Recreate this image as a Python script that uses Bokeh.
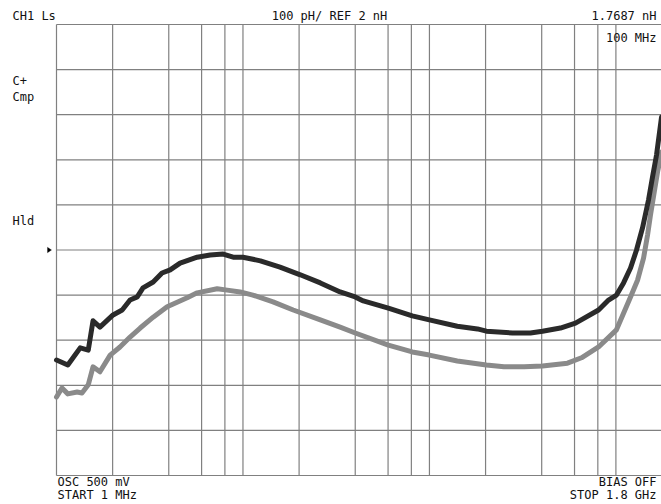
import math
from bokeh.plotting import figure
from bokeh.models import Range1d, Label, PolyAnnotation
from bokeh.embed import file_html
from bokeh.resources import INLINE

# ---- data (frequency in MHz, inductance in nH) ----
freq_black = [1.0, 1.15, 1.34, 1.48, 1.57, 1.71, 2.01, 2.25, 2.48, 2.71, 2.91,
              3.30, 3.68, 4.07, 4.60, 5.68, 6.67, 7.83, 8.86, 10.0, 12.4,
              15.8, 20.3, 26.0, 33.2, 40.0, 44.2, 60.2, 80.9, 99.9, 141,
              181, 202, 279, 348, 404, 504, 607, 807, 913, 1007,
              1099, 1198, 1290, 1389, 1496, 1572, 1652, 1757]
ls_black = [1.756, 1.745, 1.783, 1.778, 1.843, 1.829, 1.856, 1.867, 1.889, 1.896, 1.916,
            1.929, 1.949, 1.956, 1.971, 1.984, 1.989, 1.991, 1.984, 1.984, 1.976,
            1.962, 1.945, 1.927, 1.907, 1.896, 1.887, 1.871, 1.854, 1.845, 1.831,
            1.825, 1.820, 1.816, 1.816, 1.820, 1.827, 1.838, 1.867, 1.889, 1.900,
            1.927, 1.960, 2.000, 2.049, 2.111, 2.162, 2.211, 2.295]

freq_gray = [1.0, 1.07, 1.15, 1.29, 1.37, 1.48, 1.57, 1.71, 1.94, 2.19,
             2.48, 2.81, 3.30, 3.92, 5.02, 5.68, 7.27, 8.23, 9.66, 11.3,
             14.5, 18.6, 26.0, 33.2, 40.0, 60.2, 80.9, 99.9, 141, 202,
             251, 322, 404, 550, 654, 807, 1007, 1198, 1306, 1407,
             1478, 1533, 1612, 1672, 1757]
ls_gray = [1.674, 1.694, 1.681, 1.685, 1.683, 1.701, 1.741, 1.730, 1.767, 1.785,
           1.807, 1.827, 1.851, 1.874, 1.894, 1.905, 1.914, 1.911, 1.907, 1.900,
           1.885, 1.867, 1.845, 1.829, 1.816, 1.789, 1.774, 1.767, 1.754, 1.745,
           1.741, 1.741, 1.743, 1.749, 1.761, 1.785, 1.823, 1.896, 1.933, 1.982,
           2.033, 2.078, 2.133, 2.173, 2.217]

grid_freqs = [1, 2, 4, 6, 8, 10, 20, 40, 60, 80, 100, 200, 400, 600, 800, 1000]
grid_ls = [1.5, 1.6, 1.7, 1.8, 1.9, 2.0, 2.1, 2.2, 2.3, 2.4, 2.5]

start_mhz = 1
stop_mhz = 1800
ref_nh = 2.0
bottom_nh = 1.5
top_nh = 2.5

txt_ch = "CH1 Ls"
txt_scale = "100 pH/ REF 2 nH"
txt_marker_val = "1.7687 nH"
txt_marker_freq = "100 MHz"
txt_cplus = "C+"
txt_cmp = "Cmp"
txt_hld = "Hld"
txt_osc = "OSC 500 mV"
txt_start = "START 1 MHz"
txt_bias = "BIAS OFF"
txt_stop = "STOP 1.8 GHz"

# ---- layout (pixels) ----
W, H = 661, 504
GRID_LEFT, GRID_RIGHT = 56, 663      # where start/stop frequencies sit
GRID_TOP, GRID_BOTTOM = 24, 475      # where top/bottom inductance sit
FONT = "DejaVu Sans Mono"
FS = "12px"

# ranges chosen so that the whole canvas is the frame and the graticule sits where it should
dec_px = (GRID_RIGHT - GRID_LEFT) / (math.log10(stop_mhz) - math.log10(start_mhz))
x0 = 10 ** (math.log10(start_mhz) - GRID_LEFT / dec_px)
x1 = 10 ** (math.log10(stop_mhz) - (GRID_RIGHT - W) / dec_px)
nh_px = (GRID_BOTTOM - GRID_TOP) / (top_nh - bottom_nh)
y0 = bottom_nh - (H - GRID_BOTTOM) / nh_px
y1 = top_nh + GRID_TOP / nh_px

p = figure(width=W, height=H, x_axis_type="log",
           x_range=Range1d(x0, x1), y_range=Range1d(y0, y1),
           output_backend="svg", toolbar_location=None,
           min_border_left=0, min_border_right=0, min_border_top=0, min_border_bottom=0)
p.axis.visible = False
p.grid.visible = False
p.outline_line_color = None
p.background_fill_color = "white"
p.border_fill_color = "white"

GRID_COLOR = "#808080"
p.segment(x0=grid_freqs, y0=[bottom_nh] * len(grid_freqs),
          x1=grid_freqs, y1=[top_nh] * len(grid_freqs),
          line_color=GRID_COLOR, line_width=1.2)
p.segment(x0=[start_mhz] * len(grid_ls), y0=grid_ls,
          x1=[stop_mhz] * len(grid_ls), y1=grid_ls,
          line_color=GRID_COLOR, line_width=1.2)

p.line(freq_gray, ls_gray, line_color="#8a8a8a", line_width=5, line_join="round", line_cap="round")
p.line(freq_black, ls_black, line_color="#2a2a2a", line_width=5, line_join="round", line_cap="round")

def lab(text, x, y_top, align="left"):
    # x: page pixels from left, y_top: page pixels from top (text centre)
    p.add_layout(Label(x=x, y=H - y_top, x_units="screen", y_units="screen", text=text,
                       text_font=FONT, text_font_size=FS, text_color="#111111",
                       text_align=align, text_baseline="middle"))

lab(txt_ch, 12, 15)
lab(txt_scale, 329, 15, "center")
lab(txt_marker_val, 656, 15, "right")
lab(txt_marker_freq, 656, 37, "right")
lab(txt_cplus, 12, 80)
lab(txt_cmp, 12, 96)
lab(txt_hld, 12, 220)
lab(txt_osc, 57, 481)
lab(txt_start, 57, 494)
lab(txt_bias, 656, 481, "right")
lab(txt_stop, 656, 494, "right")

# reference-level pointer at the left of the graticule
p.add_layout(PolyAnnotation(xs=[47, 51, 47], ys=[ref_nh - 0.006, ref_nh, ref_nh + 0.006],
                            xs_units="screen", ys_units="data",
                            fill_color="black", fill_alpha=1.0, line_color="black", line_width=1))

open("out.html", "w").write(file_html(p, INLINE))
